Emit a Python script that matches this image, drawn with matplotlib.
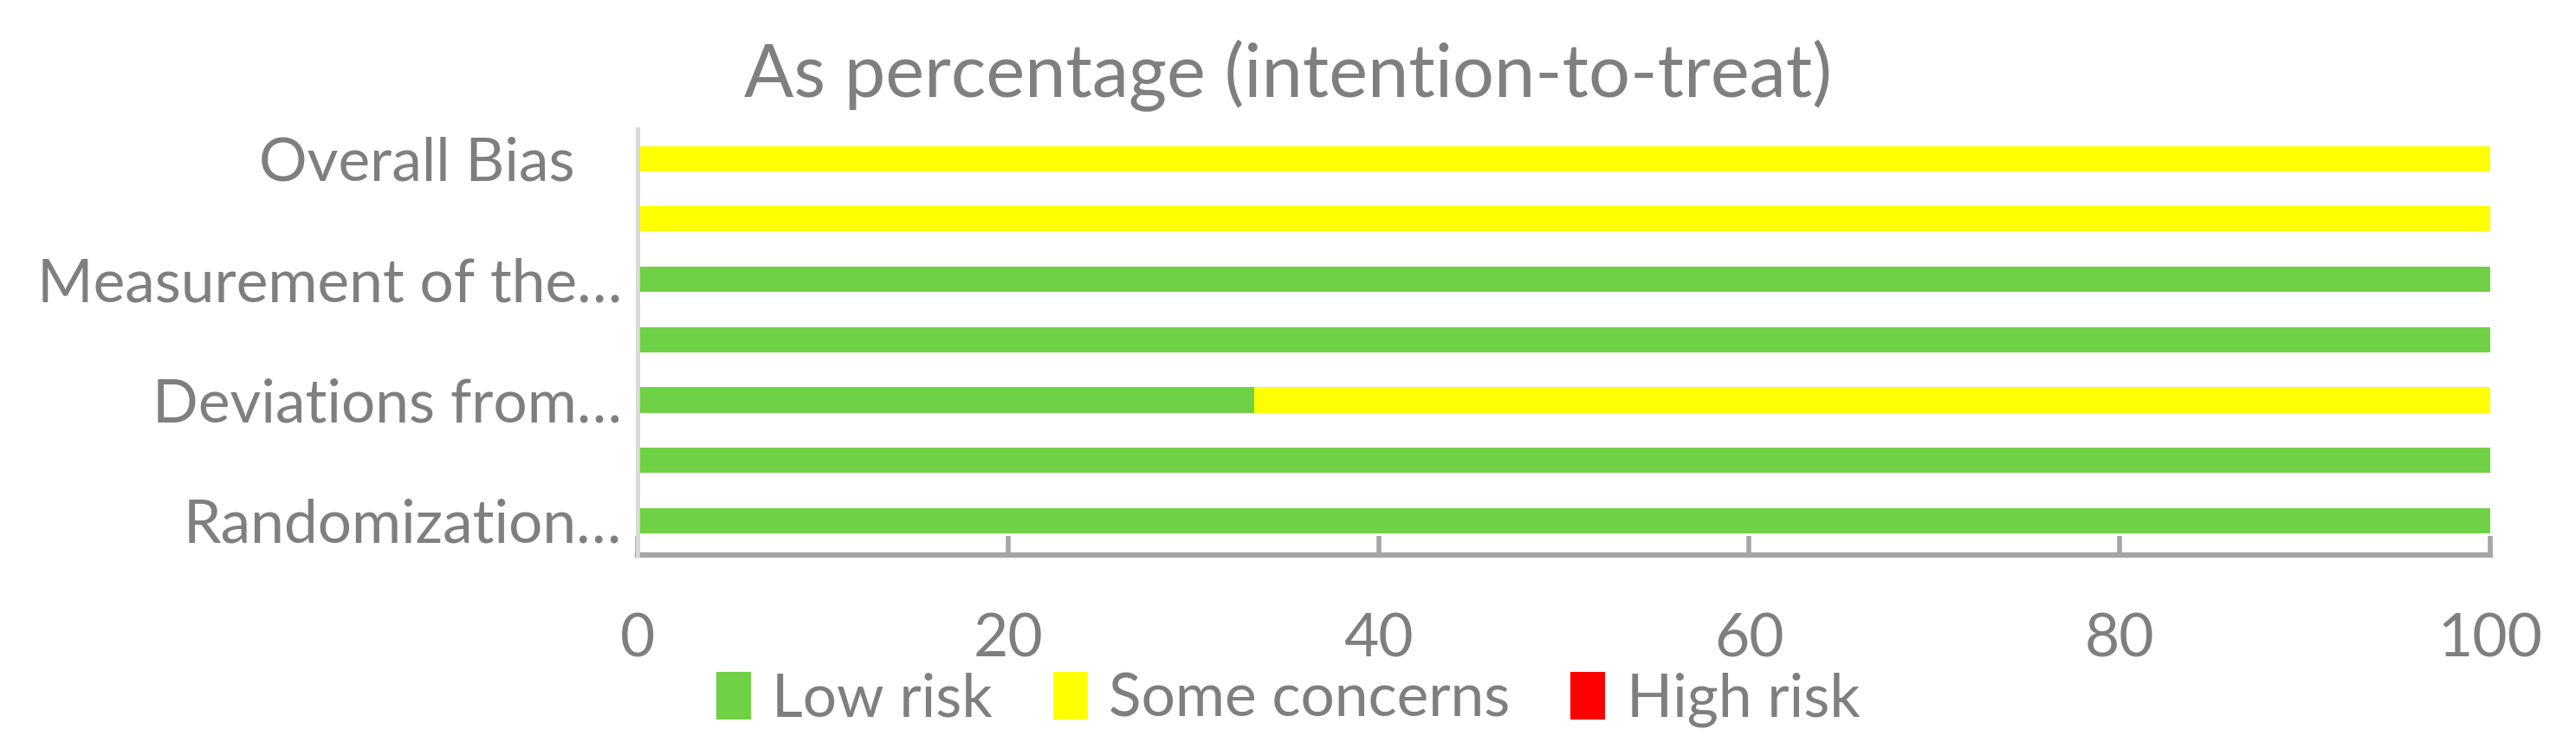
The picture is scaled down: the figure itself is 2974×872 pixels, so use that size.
import numpy as np
import matplotlib.pyplot as plt
from matplotlib.patches import Patch
from matplotlib.transforms import ScaledTranslation

plt.rcParams['font.family'] = ['Lato', 'DejaVu Sans']

# bottom -> top, as drawn
domains = [
    "Randomization process",
    "Identification/recruitment of participants",
    "Deviations from intended interventions",
    "Missing outcome data",
    "Measurement of the outcome",
    "Selection of the reported result",
    "Overall Bias",
]
shown_labels = ["Randomization…", "", "Deviations from…", "",
                "Measurement of the…", "", "Overall Bias"]

low_risk = [100, 100, 33.3, 100, 100, 0, 0]
some_concerns = [0, 0, 66.7, 0, 0, 100, 100]
high_risk = [0, 0, 0, 0, 0, 0, 0]

series_names = ["Low risk", "Some concerns", "High risk"]
colors = ["#6FD144", "#FFFF00", "#FF0000"]
TXT = "#7F7F7F"

fig = plt.figure(figsize=(29.74, 8.72), dpi=100)
ax = fig.add_axes([736 / 2974, 231 / 872, (2875 - 736) / 2974, (723 - 231) / 872])

y = np.arange(len(domains))
left = np.zeros(len(domains))
for vals, c, name in zip([low_risk, some_concerns, high_risk], colors, series_names):
    ax.barh(y, vals, left=left, height=0.42, color=c, label=name)
    left += np.array(vals)

ax.set_xlim(0, 100)
ax.set_ylim(-0.57, 6.49)
ax.set_xticks([0, 20, 40, 60, 80, 100])
ax.set_yticks(y)
ax.set_yticklabels(shown_labels)

for s in ["top", "right"]:
    ax.spines[s].set_visible(False)
ax.spines["bottom"].set_color("#A6A6A6")
ax.spines["bottom"].set_linewidth(4.5)
ax.spines["left"].set_color("#D9D9D9")
ax.spines["left"].set_linewidth(3.5)
ax.spines["bottom"].set_zorder(0)

ax.tick_params(axis="x", direction="in", length=16, width=4, color="#A6A6A6",
               labelsize=50, labelcolor=TXT, pad=48)
ax.tick_params(axis="y", length=0, labelsize=50, labelcolor=TXT, pad=13)

# the "Overall Bias" label sits further left in the original
lbl = ax.get_yticklabels()[-1]
lbl.set_transform(lbl.get_transform() + ScaledTranslation(-0.54, 0, fig.dpi_scale_trans))

fig.text(0.5, 1 - 112 / 872, "As percentage (intention-to-treat)", ha="center",
         va="baseline", fontsize=61, color=TXT)

handles = [Patch(facecolor=c, label=n) for c, n in zip(colors, series_names)]
fig.legend(handles=handles, loc="center", bbox_to_anchor=(0.5, 1 - 808 / 872),
           ncol=3, frameon=False, fontsize=50, labelcolor=TXT,
           handlelength=0.58, handleheight=0.85, handletextpad=0.35,
           columnspacing=1.0)

fig.savefig("out.png", dpi=100)
